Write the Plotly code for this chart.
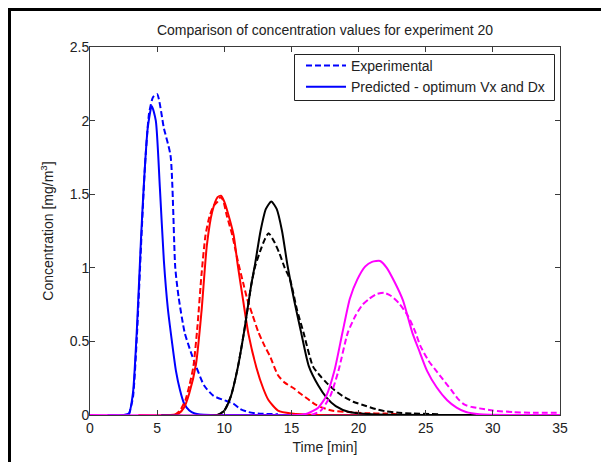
import plotly.graph_objects as go

# ---- data ----
blue_pred_t = [1.3, 2.5, 2.9, 3.2, 3.5, 3.8, 4.0, 4.3, 4.6, 4.9, 5.2, 5.5, 5.8, 6.1, 6.4, 6.7, 7.0, 7.4, 7.8, 8.2, 9.0, 12.0, 20.0, 27.0]
blue_pred_c = [0, 0, 0.01, 0.15, 0.6, 1.2, 1.55, 1.95, 2.10, 2.0, 1.55, 1.05, 0.72, 0.5, 0.3, 0.17, 0.08, 0.03, 0.01, 0.003, 0, 0, 0, 0]

blue_exp_t = [2.9, 3.2, 3.5, 3.8, 4.1, 4.4, 4.7, 5.0, 5.5, 6.0, 6.35, 6.6, 7.05, 7.5, 7.9, 8.5, 9.2, 10.0, 10.7, 11.2, 11.8, 12.5, 14.0]
blue_exp_c = [0, 0.12, 0.55, 1.15, 1.7, 2.05, 2.16, 2.18, 1.95, 1.76, 1.0, 0.8, 0.56, 0.43, 0.33, 0.2, 0.13, 0.1, 0.075, 0.04, 0.02, 0.01, 0.005]

red_pred_t = [3.6, 6.0, 6.6, 7.0, 7.4, 7.9, 8.3, 8.7, 9.1, 9.5, 9.75, 10.0, 10.4, 10.7, 11.0, 11.4, 11.8, 12.4, 12.9, 13.3, 14.0, 15.0, 17.0, 35.0]
red_pred_c = [0, 0, 0.01, 0.05, 0.15, 0.35, 0.7, 1.15, 1.38, 1.48, 1.49, 1.45, 1.33, 1.22, 1.02, 0.78, 0.55, 0.32, 0.18, 0.1, 0.03, 0.01, 0, 0]

red_exp_t = [6.3, 6.7, 7.1, 7.4, 7.7, 8.0, 8.3, 8.6, 8.9, 9.2, 9.5, 9.7, 9.9, 10.2, 10.6, 11.0, 11.4, 11.7, 12.1, 12.55, 13.0, 13.4, 14.0, 14.5, 15.2, 15.6, 16.2, 16.8, 17.3, 18.0, 19.3, 20.5, 22.0, 23.0]
red_exp_c = [0, 0.03, 0.1, 0.2, 0.33, 0.6, 0.95, 1.22, 1.35, 1.42, 1.45, 1.48, 1.46, 1.35, 1.22, 1.05, 0.9, 0.79, 0.68, 0.56, 0.47, 0.40, 0.27, 0.22, 0.18, 0.15, 0.11, 0.07, 0.05, 0.03, 0.02, 0.012, 0.01, 0.005]

black_pred_t = [5.3, 9.5, 10.0, 10.5, 11.0, 11.5, 12.0, 12.3, 12.7, 13.1, 13.5, 13.9, 14.3, 14.7, 15.2, 15.7, 16.3, 17.0, 17.6, 18.3, 19.3, 21.0, 29.0]
black_pred_c = [0, 0, 0.03, 0.13, 0.32, 0.58, 0.88, 1.03, 1.25, 1.4, 1.45, 1.4, 1.25, 1.02, 0.78, 0.57, 0.33, 0.2, 0.12, 0.06, 0.02, 0.005, 0]

black_exp_t = [9.5, 10.0, 10.5, 11.0, 11.5, 12.0, 12.3, 12.7, 13.0, 13.3, 13.7, 14.1, 14.5, 14.9, 15.4, 15.9, 16.6, 17.1, 17.6, 18.2, 18.8, 19.6, 20.5, 21.3, 22.0, 23.0, 24.0, 26.0]
black_exp_c = [0, 0.03, 0.13, 0.32, 0.58, 0.88, 1.01, 1.12, 1.19, 1.235, 1.18, 1.1, 1.0, 0.92, 0.72, 0.56, 0.33, 0.27, 0.22, 0.17, 0.13, 0.09, 0.063, 0.04, 0.025, 0.015, 0.01, 0.005]

mag_pred_t = [0, 15.5, 16.2, 17.0, 17.6, 18.2, 18.8, 19.35, 19.9, 20.5, 21.0, 21.6, 22.1, 22.7, 23.3, 24.0, 24.5, 25.1, 25.8, 26.6, 27.3, 28.0, 29.0, 35.0]
mag_pred_c = [0, 0, 0.01, 0.05, 0.13, 0.3, 0.56, 0.79, 0.92, 1.01, 1.04, 1.046, 1.0, 0.9, 0.78, 0.56, 0.44, 0.3, 0.19, 0.1, 0.05, 0.02, 0.005, 0]

mag_exp_t = [16.5, 17.2, 17.9, 18.5, 19.2, 19.8, 20.3, 20.8, 21.3, 21.9, 22.4, 23.0, 23.7, 24.2, 24.6, 25.2, 25.7, 26.3, 26.9, 27.4, 27.9, 28.4, 29.0, 30.0, 31.5, 33.0, 35.0]
mag_exp_c = [0, 0.03, 0.13, 0.3, 0.56, 0.68, 0.75, 0.79, 0.82, 0.83, 0.81, 0.76, 0.67, 0.57, 0.47, 0.37, 0.31, 0.24, 0.17, 0.11, 0.07, 0.055, 0.045, 0.03, 0.02, 0.015, 0.015]

x_ticks = [0, 5, 10, 15, 20, 25, 30, 35]
y_ticks = [0, 0.5, 1, 1.5, 2, 2.5]
y_tick_labels = ["0", "0.5", "1", "1.5", "2", "2.5"]

series = [
    ("#0000FF", blue_exp_t, blue_exp_c, blue_pred_t, blue_pred_c, True),
    ("#FF0000", red_exp_t, red_exp_c, red_pred_t, red_pred_c, False),
    ("#000000", black_exp_t, black_exp_c, black_pred_t, black_pred_c, False),
    ("#FF00FF", mag_exp_t, mag_exp_c, mag_pred_t, mag_pred_c, False),
]

FONT = "Liberation Sans, Arial, sans-serif"
OFF = 8                     # page body margin of the html page
W, H = 609 - OFF, 462 - OFF
# plot area in page pixels: x 90..560, y 47..415
L, R, T, B = 90 - OFF, 560 - OFF, 47 - OFF, 415 - OFF

fig = go.Figure()
for color, et, ec, pt, pc, leg in series:
    fig.add_trace(go.Scatter(x=et, y=ec, mode="lines",
                             line=dict(color=color, width=2, dash="6px,3px", shape="spline", smoothing=0.6),
                             name="Experimental", showlegend=leg, legendrank=1))
    fig.add_trace(go.Scatter(x=pt, y=pc, mode="lines",
                             line=dict(color=color, width=2, shape="spline", smoothing=0.6),
                             name="Predicted - optimum Vx and Dx", showlegend=leg, legendrank=2))

def px_x(p):  # page pixel -> paper
    return (p - OFF - L) / (R - L)

def px_y(p):
    return (B - (p - OFF)) / (B - T)

# outer black frame (left and top edges of the screenshot)
fig.add_shape(type="rect", xref="paper", yref="paper",
              x0=px_x(8), x1=px_x(11), y0=px_y(470), y1=px_y(8),
              fillcolor="black", line=dict(width=0), layer="above")
fig.add_shape(type="rect", xref="paper", yref="paper",
              x0=px_x(8), x1=px_x(620), y0=px_y(11), y1=px_y(8),
              fillcolor="black", line=dict(width=0), layer="above")
# legend box
fig.add_shape(type="rect", xref="paper", yref="paper",
              x0=px_x(294.5), x1=px_x(554.5), y0=px_y(100.5), y1=px_y(54.5),
              fillcolor="white", line=dict(width=1, color="#222"), layer="above")

axis_common = dict(showline=True, linecolor="#3a3a3a", linewidth=1, mirror="ticks",
                   ticks="inside", ticklen=5, tickcolor="#3a3a3a", showgrid=False,
                   zeroline=False, automargin=False,
                   tickfont=dict(family=FONT, size=14, color="#222"))

fig.update_layout(
    width=W, height=H,
    margin=dict(l=L, r=W - R, t=T, b=H - B),
    paper_bgcolor="white", plot_bgcolor="white",
    font=dict(family=FONT, size=14, color="#222"),
    title=dict(text="Comparison of concentration values for experiment 20",
               x=(L + R) / 2 / W, xanchor="center", y=1 - (30 - OFF) / H, yanchor="middle",
               font=dict(family=FONT, size=14, color="#222")),
    xaxis=dict(range=[0, 35], tickvals=x_ticks, title=dict(text="Time [min]", standoff=7,
               font=dict(family=FONT, size=14, color="#222")), **axis_common),
    yaxis=dict(range=[0, 2.5], tickvals=y_ticks, ticktext=y_tick_labels, ticklabelstandoff=-3,
               title=dict(text="Concentration [mg/m<sup>3</sup>]", standoff=12,
                          font=dict(family=FONT, size=14, color="#222")), **axis_common),
    legend=dict(x=px_x(550), xanchor="right", y=px_y(50), yanchor="top",
                bgcolor="rgba(0,0,0,0)", borderwidth=0, itemwidth=40,
                font=dict(family=FONT, size=14, color="#222"), traceorder="normal"),
)

fig.write_html("out.html")
